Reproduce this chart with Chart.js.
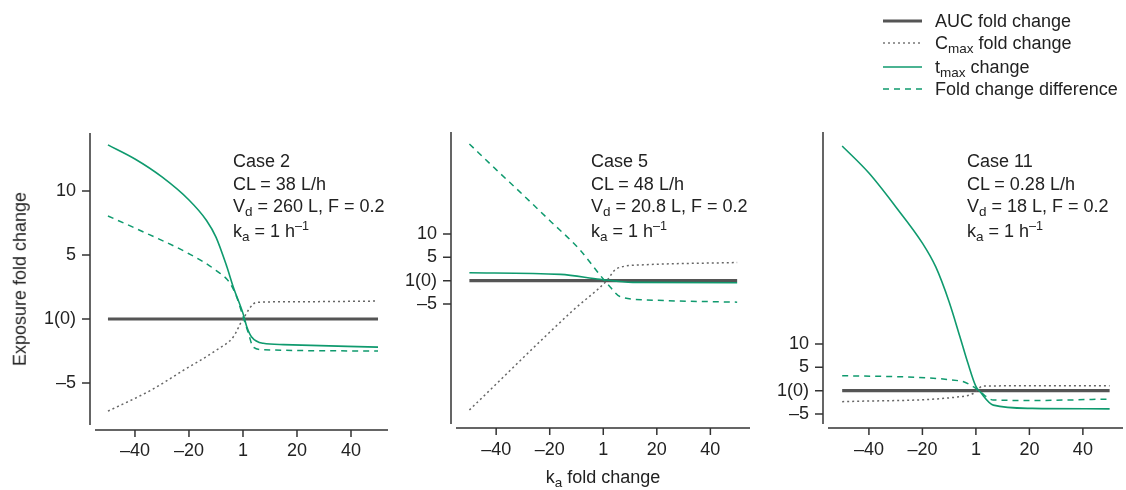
<!DOCTYPE html>
<html>
<head>
<meta charset="utf-8">
<script src="https://cdn.jsdelivr.net/npm/chart.js@4"></script>
<style>
  body { margin: 0; background: #fff; }
  #wrap { position: relative; width: 1126px; height: 490px; font-family: "Liberation Sans", Arial, sans-serif; color: #222; font-size: 18px; }
  canvas { position: absolute; left: 0; top: 0; }
  .note { position: absolute; line-height: 22.5px; white-space: nowrap; }
  .sb { font-size: 0.75em; position: relative; top: 0.3em; }
  .sp { font-size: 0.7em; position: relative; top: -0.55em; }
  .leg { position: absolute; left: 883px; height: 22px; line-height: 22px; white-space: nowrap; }
  .leg svg { position: absolute; left: 0; top: 0; }
  .leg span.t { position: absolute; left: 52px; top: 0; }
</style>
</head>
<body>
<div id="wrap">
  <canvas id="c1" width="1126" height="490"></canvas>
  <canvas id="c2" width="1126" height="490"></canvas>
  <canvas id="c3" width="1126" height="490"></canvas>

  <div class="leg" style="top:10px"><svg width="40" height="22"><line x1="0" y1="11" x2="39" y2="11" stroke="#555" stroke-width="3"/></svg><span class="t">AUC fold change</span></div>
  <div class="leg" style="top:32px"><svg width="40" height="22"><line x1="0" y1="11" x2="39" y2="11" stroke="#777" stroke-width="1.5" stroke-dasharray="2,3"/></svg><span class="t">C<span class="sb">max</span> fold change</span></div>
  <div class="leg" style="top:56px"><svg width="40" height="22"><line x1="0" y1="11" x2="39" y2="11" stroke="#0f9a6e" stroke-width="1.5"/></svg><span class="t">t<span class="sb">max</span> change</span></div>
  <div class="leg" style="top:78px"><svg width="40" height="22"><line x1="0" y1="11" x2="39" y2="11" stroke="#0f9a6e" stroke-width="1.5" stroke-dasharray="6,5"/></svg><span class="t">Fold change difference</span></div>

  <div class="note" style="left:233px; top:150px">Case 2<br>CL = 38 L/h<br>V<span class="sb">d</span> = 260 L, F = 0.2<br>k<span class="sb">a</span> = 1 h<span class="sp">–1</span></div>
  <div class="note" style="left:591px; top:150px">Case 5<br>CL = 48 L/h<br>V<span class="sb">d</span> = 20.8 L, F = 0.2<br>k<span class="sb">a</span> = 1 h<span class="sp">–1</span></div>
  <div class="note" style="left:967px; top:150px">Case 11<br>CL = 0.28 L/h<br>V<span class="sb">d</span> = 18 L, F = 0.2<br>k<span class="sb">a</span> = 1 h<span class="sp">–1</span></div>

  <div class="note" style="left:20px; top:279px; transform: translate(-50%, -50%) rotate(-90deg);">Exposure fold change</div>
  <div class="note" style="left:603px; top:466px; transform: translateX(-50%);">k<span class="sb">a</span> fold change</div>
</div>

<script>
// 刻度（"1" 在 0 的位置）
const xTicks = [-40, -20, 0, 20, 40];
const xTickLabels = ['–40', '–20', '1', '20', '40'];
const yTicks = [10, 5, 0, -5];
const yTickLabels = ['10', '5', '1(0)', '–5'];

// Case 2
const c2AucX = [-50, 50];
const c2AucY = [0, 0];
const c2CmaxX = [-50, -34, -22, -10, -3.6, 0, 5, 20, 50];
const c2CmaxY = [-7.2, -5.55, -4.0, -2.45, -1.4, 0, 1.3, 1.35, 1.4];
const c2TmaxX = [-50, -40, -30, -20, -13.5, -10, -6, -3.6, 0, 1.4, 3.2, 7.5, 15, 50];
const c2TmaxY = [13.6, 12.5, 11.1, 9.3, 7.7, 6.4, 4.1, 2.5, 0.44, -0.6, -1.4, -1.9, -2.0, -2.2];
const c2DiffX = [-50, -40, -20, -10, -4.8, -2.3, 0, 2, 3.8, 7.5, 50];
const c2DiffY = [8.05, 7.1, 5.1, 3.8, 2.8, 1.7, 0.2, -1.1, -2.2, -2.4, -2.5];

// Case 5
const c5AucX = [-50, 50];
const c5AucY = [0, 0];
const c5CmaxX = [-50, -11.2, 1.3, 5, 15, 50];
const c5CmaxY = [-27.7, -6.3, 0, 2.6, 3.4, 3.9];
const c5TmaxX = [-50, -16, -1.2, 11, 50];
const c5TmaxY = [1.7, 1.36, 0.3, -0.36, -0.43];
const c5DiffX = [-50, -40, -30, -20, -8.7, -1.2, 2.5, 6.2, 16, 50];
const c5DiffY = [29.3, 23.8, 18.4, 12.9, 6.6, 1.2, -1.3, -3.4, -4.1, -4.6];

// Case 11
const c11AucX = [-50, 50];
const c11AucY = [0, 0];
const c11CmaxX = [-50, -6, -1, 2.7, 50];
const c11CmaxY = [-2.36, -1.3, -0.6, 1.0, 1.07];
const c11TmaxX = [-50, -40, -30, -20, -15, -10, -6, -3, 0, 1.5, 6.5, 21, 50];
const c11TmaxY = [52.4, 46.6, 39.4, 31.6, 26.5, 19, 11.6, 5.9, 0.9, -0.2, -3.1, -3.8, -3.9];
const c11DiffX = [-50, -6, -1, 1.5, 6.5, 21, 50];
const c11DiffY = [3.2, 2.1, 0.86, -0.2, -2.0, -2.1, -1.8];

const GREEN = '#0f9a6e';
const GRAY = '#555';

const pts = (xs, ys) => xs.map((x, i) => ({ x, y: ys[i] }));

// 分离的坐标轴线和刻度线
const axisLines = {
  id: 'axisLines',
  afterDraw(chart, args, opts) {
    const { ctx, chartArea: a, scales: { x, y } } = chart;
    const ax = a.left - 5, ay = a.bottom + opts.gapY;
    ctx.save();
    ctx.strokeStyle = '#333';
    ctx.lineWidth = 1.5;
    ctx.beginPath();
    ctx.moveTo(ax, a.top); ctx.lineTo(ax, a.bottom);
    ctx.moveTo(a.left, ay); ctx.lineTo(a.right, ay);
    y.ticks.forEach(t => { const p = y.getPixelForValue(t.value); ctx.moveTo(ax, p); ctx.lineTo(ax - 8, p); });
    x.ticks.forEach(t => { const p = x.getPixelForValue(t.value); ctx.moveTo(p, ay); ctx.lineTo(p, ay + 7); });
    ctx.stroke();
    ctx.restore();
  }
};

const Y_W = 70;
const X_H = 40;

function makePanel(id, area, xr, yr, d) {
  const line = (data, color, width, dash, order) => ({
    data, borderColor: color, borderWidth: width, borderDash: dash, order,
    pointRadius: 0, fill: false, cubicInterpolationMode: 'monotone', borderCapStyle: 'butt'
  });
  return new Chart(document.getElementById(id), {
    type: 'line',
    data: {
      datasets: [
        line(d.auc, GRAY, 3.2, [], 4),
        line(d.cmax, '#666', 1.5, [2, 3], 3),
        line(d.diff, GREEN, 1.5, [6, 5], 2),
        line(d.tmax, GREEN, 1.6, [], 1)
      ]
    },
    options: {
      responsive: false,
      animation: false,
      devicePixelRatio: 1,
      layout: { padding: { left: area.left - Y_W, right: 1126 - area.right, top: area.top, bottom: 490 - area.bottom - X_H } },
      plugins: { legend: { display: false }, tooltip: { enabled: false }, axisLines: { gapY: area.gapY } },
      scales: {
        x: {
          type: 'linear', min: xr[0], max: xr[1],
          grid: { display: false, drawTicks: false }, border: { display: false },
          afterFit: s => { s.height = X_H; },
          afterBuildTicks: s => { s.ticks = xTicks.map(v => ({ value: v })); },
          ticks: {
            padding: 15, color: '#222', font: { family: 'Liberation Sans', size: 18 },
            maxRotation: 0, autoSkip: false,
            callback: v => xTickLabels[xTicks.indexOf(v)]
          }
        },
        y: {
          type: 'linear', min: yr[0], max: yr[1],
          grid: { display: false, drawTicks: false }, border: { display: false },
          afterFit: s => { s.width = Y_W; },
          afterBuildTicks: s => { s.ticks = yTicks.map(v => ({ value: v })); },
          ticks: {
            padding: 19, color: '#222', font: { family: 'Liberation Sans', size: 18 },
            autoSkip: false,
            callback: v => yTickLabels[yTicks.indexOf(v)]
          }
        }
      }
    },
    plugins: [axisLines]
  });
}

makePanel('c1', { left: 95, right: 388, top: 133, bottom: 425, gapY: 5 }, [-54.8, 53.7], [-8.28, 14.53], {
  auc: pts(c2AucX, c2AucY), cmax: pts(c2CmaxX, c2CmaxY), tmax: pts(c2TmaxX, c2TmaxY), diff: pts(c2DiffX, c2DiffY)
});
makePanel('c2', { left: 456, right: 750, top: 132, bottom: 424, gapY: 4 }, [-55.0, 54.8], [-30.7, 31.86], {
  auc: pts(c5AucX, c5AucY), cmax: pts(c5CmaxX, c5CmaxY), tmax: pts(c5TmaxX, c5TmaxY), diff: pts(c5DiffX, c5DiffY)
});
makePanel('c3', { left: 828, right: 1123, top: 132, bottom: 424, gapY: 4 }, [-55.3, 55.0], [-7.14, 55.4], {
  auc: pts(c11AucX, c11AucY), cmax: pts(c11CmaxX, c11CmaxY), tmax: pts(c11TmaxX, c11TmaxY), diff: pts(c11DiffX, c11DiffY)
});
</script>
</body>
</html>
